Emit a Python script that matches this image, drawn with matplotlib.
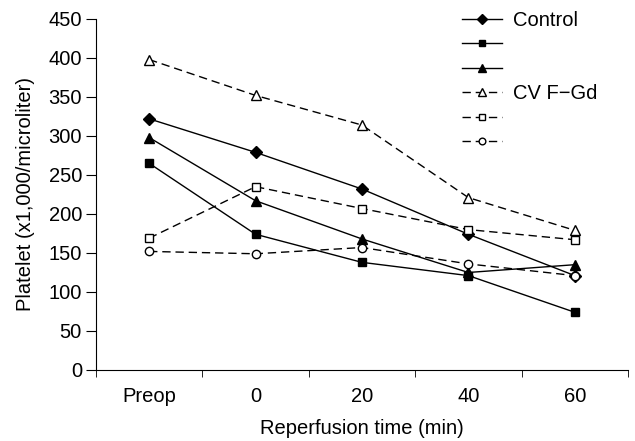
import matplotlib
matplotlib.use("Agg")
import matplotlib.pyplot as plt

plt.rcParams['font.family'] = ['Liberation Sans', 'DejaVu Sans']

categories = ["Preop", "0", "20", "40", "60"]
control = [322, 279, 232, 174, 121]
filled_square = [265, 174, 138, 121, 74]
filled_triangle = [298, 217, 168, 125, 135]
cvf_triangle = [398, 352, 314, 221, 179]
open_square = [169, 235, 207, 180, 167]
open_circle = [152, 149, 157, 136, 121]

dash = (0, (6, 3.5))
series = [
  (control, "D", 6.5, "black", "-", "Control"),
  (filled_square, "s", 5.8, "black", "-", " "),
  (filled_triangle, "^", 6.5, "black", "-", " "),
  (cvf_triangle, "^", 6.5, "white", dash, "CV F\u2212Gd"),
  (open_square, "s", 5.8, "white", dash, " "),
  (open_circle, "o", 6.0, "white", dash, " "),
]

fs = 14.5
fig = plt.figure(figsize=(6.35, 4.41), dpi=100)
ax = fig.add_axes([0.151, 0.161, 0.838, 0.796])

x = range(len(categories))
for vals, mk, ms, fc, ls, lab in series:
  ax.plot(x, vals, color="black", linestyle=ls, linewidth=1.0, marker=mk,
          markersize=ms, markerfacecolor=fc, markeredgecolor="black",
          markeredgewidth=1.0, label=lab)

ax.set_xlim(-0.5, 4.5)
ax.set_ylim(0, 450)
ax.set_yticks(range(0, 451, 50))
ax.set_xticks(x)
ax.set_xticklabels(categories)
ax.tick_params(axis="x", length=0, labelsize=fs, pad=12.5)
ax.set_xticks([i - 0.5 for i in range(6)], minor=True)
ax.tick_params(axis="x", which="minor", length=5, direction="out")
ax.tick_params(axis="y", length=7, direction="out", labelsize=fs, pad=3)
for s in ("top", "right"):
  ax.spines[s].set_visible(False)

ax.set_xlabel("Reperfusion time (min)", fontsize=fs, labelpad=9)
ax.set_ylabel("Platelet (x1,000/microliter)", fontsize=fs, labelpad=10)

leg = fig.legend(loc="upper left", bbox_to_anchor=(462 / 635, 1 - 11 / 441),
                 frameon=False, fontsize=fs, handlelength=2.0, borderpad=0,
                 borderaxespad=0, labelspacing=0.27, handletextpad=0.55,
                 markerscale=0.8)

fig.savefig("out.png", dpi=100)
